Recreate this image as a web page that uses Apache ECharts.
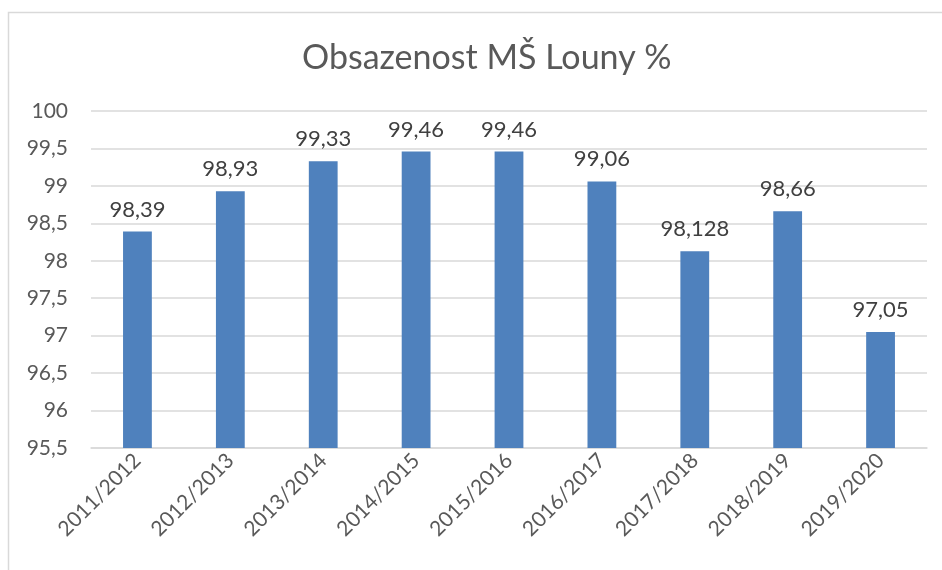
<!DOCTYPE html>
<html><head><meta charset="utf-8">
<script src="https://cdn.jsdelivr.net/npm/echarts@6/dist/echarts.min.js"></script>
<style>html,body{margin:0;padding:0;background:#fff}#c{width:942px;height:570px}</style>
</head><body><div id="c"></div>
<script>
const categories = ["2011/2012","2012/2013","2013/2014","2014/2015","2015/2016","2016/2017","2017/2018","2018/2019","2019/2020"];
const values = [98.39, 98.93, 99.33, 99.46, 99.46, 99.06, 98.128, 98.66, 97.05];
const titleText = "Obsazenost MŠ Louny %";
const FONT = "Lato, 'Open Sans', sans-serif";
const fmt = v => String(v).replace('.', ',');
const chart = echarts.init(document.getElementById('c'), null, {renderer:'canvas'});
chart.setOption({
  animation:false,
  backgroundColor:'#fff',
  graphic:[{type:'rect', shape:{x:8.5,y:12.5,width:1000,height:1000}, style:{fill:'none', stroke:'#d9d9d9', lineWidth:1.5}, z:-1}],
  title:{text:titleText, left:297, top:36, textStyle:{fontFamily:FONT, fontSize:34, fontWeight:'normal', color:'#595959'}},
  grid:{left:91, right:15, top:111, bottom:122},
  xAxis:{type:'category', data:categories,
    axisLine:{lineStyle:{color:'#d9d9d9', width:1.5}}, axisTick:{show:false},
    axisLabel:{rotate:45, margin:9, fontFamily:FONT, fontSize:21, color:'#595959', interval:0}},
  yAxis:{type:'value', min:95.5, max:100, interval:0.5,
    axisLine:{show:false}, axisTick:{show:false},
    splitLine:{lineStyle:{color:'#d9d9d9', width:1.5}},
    axisLabel:{margin:23, fontFamily:FONT, fontSize:21, color:'#595959', formatter:v=>fmt(Math.round(v*10)/10)}},
  series:[{type:'bar', data:values, barWidth:'31%', itemStyle:{color:'#4F81BD'},
    label:{show:true, position:'top', distance:11, fontFamily:FONT, fontSize:22, color:'#404040', formatter:p=>fmt(p.value)}}]
});
</script></body></html>
